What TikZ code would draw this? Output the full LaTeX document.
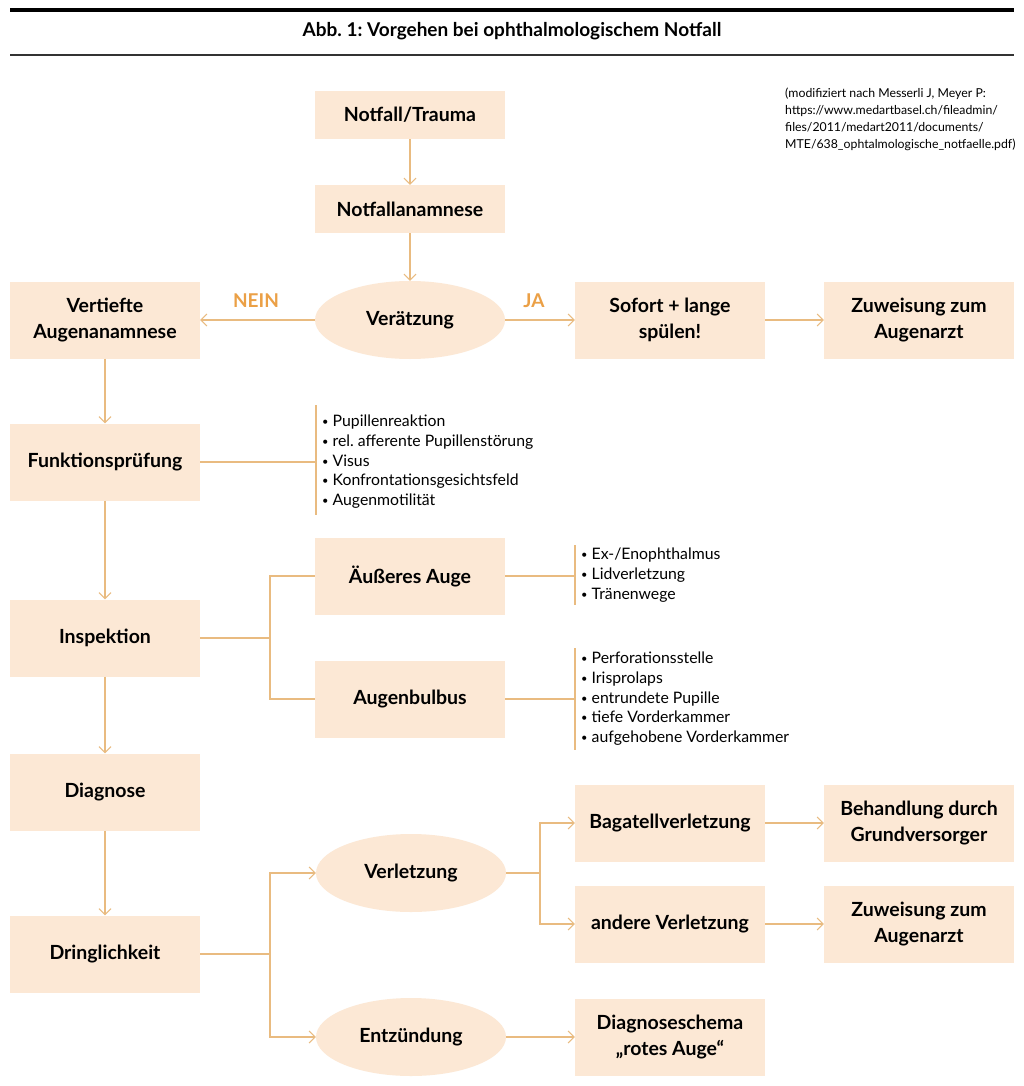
\documentclass[tikz,border=0pt]{standalone}
\usepackage{fontspec}
\setmainfont{Lato}
\usetikzlibrary{shapes.geometric,arrows.meta}
\definecolor{peach}{HTML}{FCE8D5}
\definecolor{tanline}{HTML}{E9BB80}
\definecolor{orng}{HTML}{EBA046}
\newcommand\mybul{\raisebox{0.15ex}{\scalebox{0.7}{\textbullet}}\ }
\frenchspacing
\begin{document}
\begin{tikzpicture}[x=1pt,y=-1pt,
  box/.style={rectangle, fill=peach, minimum width=190pt, minimum height=77pt, inner sep=2pt, align=center, font=\fontsize{19.5}{25.5}\selectfont\bfseries},
  sbox/.style={box, minimum height=48pt},
  oval/.style={ellipse, fill=peach, minimum width=190pt, minimum height=78pt, inner sep=0pt, align=center, font=\fontsize{19.5}{25.5}\selectfont\bfseries},
  conn/.style={draw=tanline, line width=1.3pt},
  arr/.style={conn, -{Straight Barb[length=6pt,width=12pt,line width=1pt]}},
  blist/.style={align=left, inner sep=0pt, anchor=north west, font=\fontsize{15.8}{19.7}\selectfont},
  lbl/.style={text=orng, font=\fontsize{19}{20}\selectfont\bfseries, inner sep=0pt}
]
\useasboundingbox (0,0) rectangle (1024,1086);
\fill[white] (0,0) rectangle (1024,1086);
% header
\draw[line width=4pt] (10,10) -- (1014,10);
\node (title) at (512,31) {\fontsize{19}{22}\selectfont\bfseries Abb. 1: Vorgehen bei ophthalmologischem Notfall};
\draw[line width=1.2pt, black!80] (10,55) -- (1014,55);
\node[align=left, inner sep=0pt, anchor=north west, font=\fontsize{12.3}{17}\selectfont] (cite) at (785,88)
  {(modifiziert nach Messerli J, Meyer P:\\https://www.medartbasel.ch/fileadmin/\\files/2011/medart2011/documents/\\MTE/638\_ophtalmologische\_notfaelle.pdf)};

% nodes
\node[sbox] (notfall) at (410,115) {Notfall/Trauma};
\node[sbox] (anam) at (410,209) {Notfallanamnese};
\node[oval] (veraetz) at (410,320) {Verätzung};
\node[box] (vertiefte) at (105,320) {Vertiefte\\Augenanamnese};
\node[box] (sofort) at (670,320) {Sofort + lange\\spülen!};
\node[box] (zuw1) at (919,320) {Zuweisung zum\\Augenarzt};
\node[lbl] (nein) at (256,301) {NEIN};
\node[lbl] (ja) at (534,301) {JA};

\node[box] (funk) at (105,462) {Funktionsprüfung};
\node[blist] (flist) at (322,415) {\mybul Pupillenreaktion\\\mybul rel. afferente Pupillenstörung\\\mybul Visus\\\mybul Konfrontationsgesichtsfeld\\\mybul Augenmotilität};

\node[box] (insp) at (105,638) {Inspektion};
\node[box] (aeuss) at (410,576) {Äußeres Auge};
\node[box] (bulbus) at (410,699) {Augenbulbus};
\node[blist] (alist) at (581,548) {\mybul Ex-/Enophthalmus\\\mybul Lidverletzung\\\mybul Tränenwege};
\node[blist] (blist) at (581,652) {\mybul Perforationsstelle\\\mybul Irisprolaps\\\mybul entrundete Pupille\\\mybul tiefe Vorderkammer\\\mybul aufgehobene Vorderkammer};

\node[box] (diag) at (105,792) {Diagnose};
\node[box] (dring) at (105,954) {Dringlichkeit};
\node[oval] (verl) at (411,873) {Verletzung};
\node[oval] (entz) at (411,1037) {Entzündung};
\node[box] (bag) at (670,823) {Bagatellverletzung};
\node[box] (beh) at (919,823) {Behandlung durch\\Grundversorger};
\node[box] (andere) at (670,924) {andere Verletzung};
\node[box] (zuw2) at (919,924) {Zuweisung zum\\Augenarzt};
\node[box] (rot) at (670,1037) {Diagnoseschema\\„rotes Auge“};

% coordinates
\coordinate (jF) at (316,462);
\coordinate (jFt) at (316,405);
\coordinate (jFb) at (316,515);
\coordinate (jI) at (270,638);
\coordinate (jA) at (575,576);
\coordinate (jAt) at (575,545);
\coordinate (jAb) at (575,605);
\coordinate (jB) at (575,699);
\coordinate (jBt) at (575,648);
\coordinate (jBb) at (575,750);
\coordinate (jD) at (270,954);
\coordinate (jV) at (540,873);

% connectors
\draw[arr] (notfall) -- (anam);
\draw[arr] (anam) -- (veraetz);
\draw[arr] (veraetz) -- (vertiefte);
\draw[arr] (veraetz) -- (sofort);
\draw[arr] (sofort) -- (zuw1);
\draw[arr] (vertiefte) -- (funk);
\draw[arr] (funk) -- (insp);
\draw[arr] (insp) -- (diag);
\draw[arr] (diag) -- (dring);

\draw[conn] (funk) -- (jF);
\draw[conn] (jFt) -- (jFb);
\draw[conn] (insp) -- (jI);
\draw[conn] (aeuss.west) -| (jI) |- (bulbus.west);
\draw[conn] (aeuss) -- (jA);
\draw[conn] (jAt) -- (jAb);
\draw[conn] (bulbus) -- (jB);
\draw[conn] (jBt) -- (jBb);

\draw[conn] (dring) -- (jD);
\draw[arr] (jD) |- (verl);
\draw[arr] (jD) |- (entz);
\draw[conn] (verl) -- (jV);
\draw[arr] (jV) |- (bag);
\draw[arr] (jV) |- (andere);
\draw[arr] (bag) -- (beh);
\draw[arr] (andere) -- (zuw2);
\draw[arr] (entz) -- (rot);
\end{tikzpicture}
\end{document}
